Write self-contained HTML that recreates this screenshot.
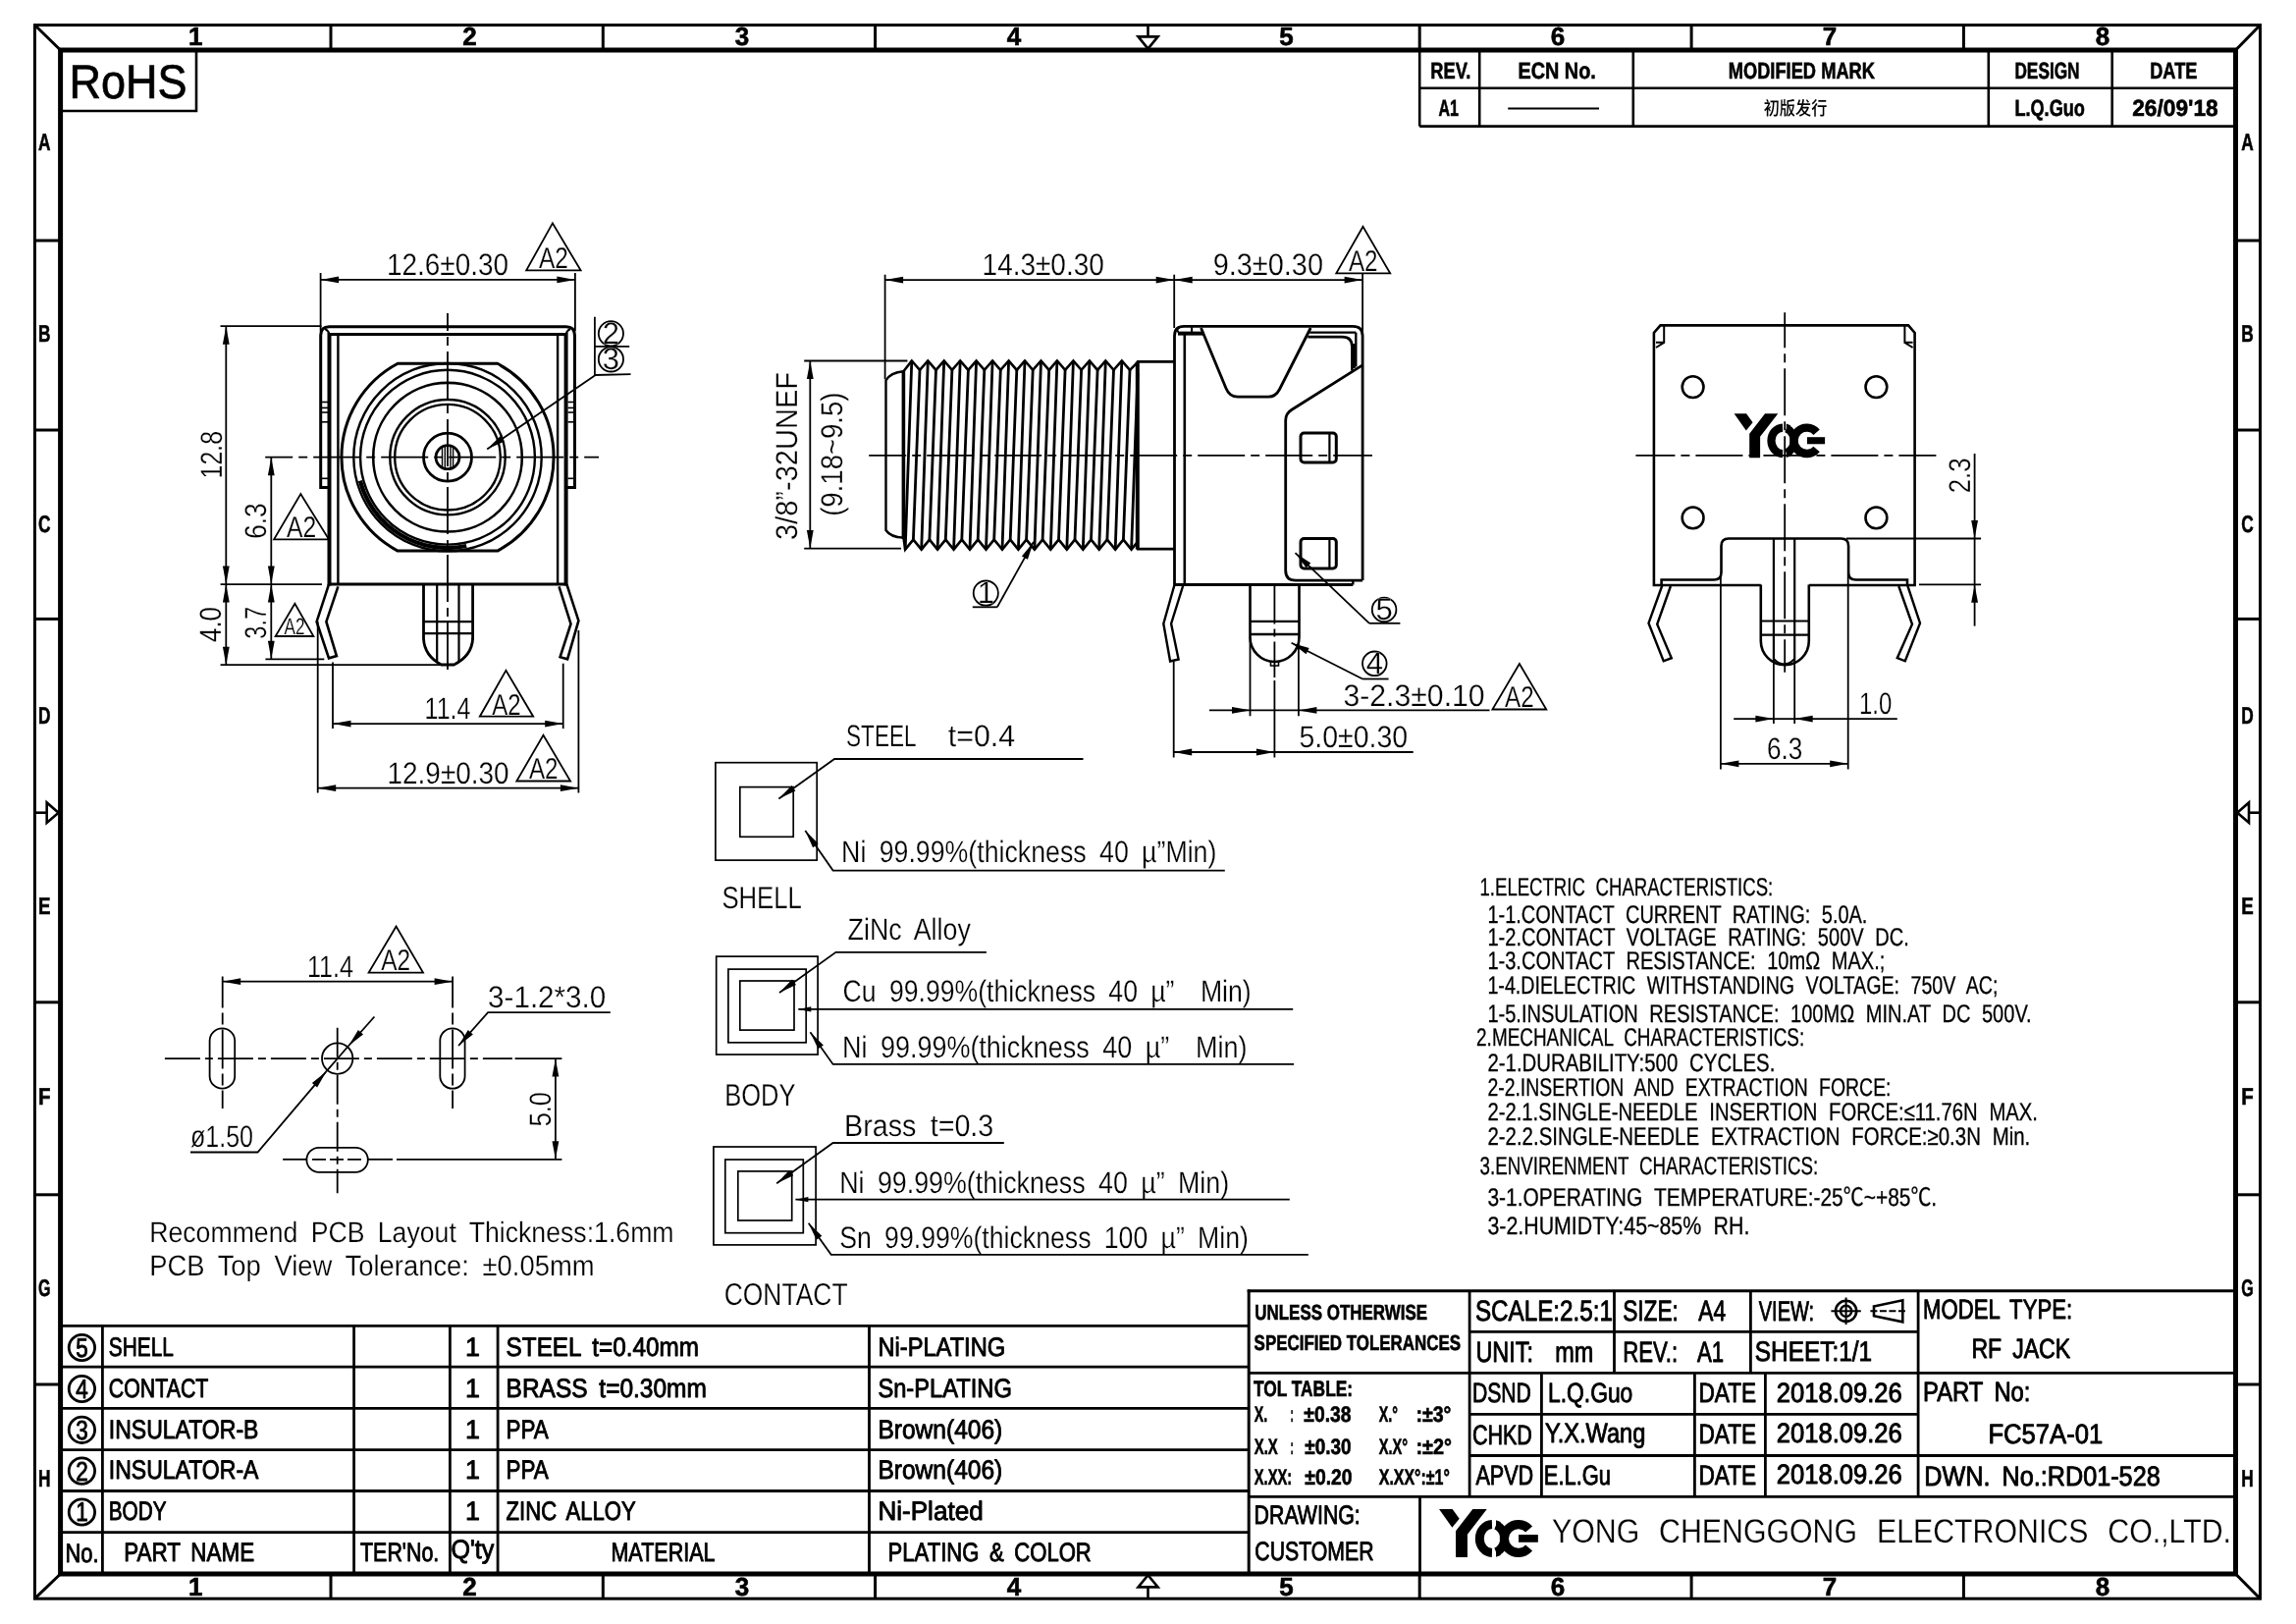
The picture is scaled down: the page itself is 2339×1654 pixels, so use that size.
<!DOCTYPE html>
<html lang="en"><head><meta charset="utf-8"><title>RF JACK FC57A-01 drawing</title>
<style>
html,body{margin:0;padding:0;background:#fff;}
body{width:2339px;height:1654px;overflow:hidden;}
svg{display:block;will-change:transform;}
svg *{vector-effect:none;}
line,path,circle,rect,ellipse,polygon{fill:none;stroke:#000;stroke-linecap:butt;stroke-linejoin:miter;}
.f{fill:#000;stroke:none;}
.w{fill:#fff;stroke:none;}
text{font-family:"Liberation Sans","Noto Sans CJK SC",sans-serif;fill:#000;stroke:none;text-rendering:geometricPrecision;}
text.t{stroke:#fff;stroke-width:.25px;word-spacing:.22em;}
text.n{stroke:#000;stroke-width:.3px;word-spacing:.3em;}
text.m{stroke:#000;stroke-width:.9px;stroke-linejoin:round;word-spacing:.2em;}
text.b{font-weight:bold;stroke:#000;stroke-width:.6px;}
text.a{stroke:#000;stroke-width:.7px;}
text.c{font-family:"Liberation Sans","Noto Sans CJK SC","WenQuanYi Zen Hei",sans-serif;font-weight:500;}
</style></head>
<body>
<svg width="2339" height="1654" viewBox="0 0 2339 1654">
<rect x="0" y="0" width="2339" height="1654" style="fill:#fff;stroke:none"/>
<g id="frame">
<rect x="35.4" y="25.5" width="2267.1" height="1602.7" rx="0" stroke-width="3"/>
<rect x="61.6" y="51.0" width="2215.9" height="1552.0" rx="0" stroke-width="5"/>
<line x1="35.4" y1="25.5" x2="61.6" y2="51.0" stroke-width="3"/>
<line x1="2302.5" y1="25.5" x2="2277.5" y2="51.0" stroke-width="3"/>
<line x1="35.4" y1="1628.2" x2="61.6" y2="1603.0" stroke-width="3"/>
<line x1="2302.5" y1="1628.2" x2="2277.5" y2="1603.0" stroke-width="3"/>
<line x1="337.0" y1="25.5" x2="337.0" y2="51.0" stroke-width="3"/>
<line x1="337.0" y1="1603.0" x2="337.0" y2="1628.2" stroke-width="3"/>
<line x1="614.3" y1="25.5" x2="614.3" y2="51.0" stroke-width="3"/>
<line x1="614.3" y1="1603.0" x2="614.3" y2="1628.2" stroke-width="3"/>
<line x1="891.6" y1="25.5" x2="891.6" y2="51.0" stroke-width="3"/>
<line x1="891.6" y1="1603.0" x2="891.6" y2="1628.2" stroke-width="3"/>
<line x1="1446.2" y1="25.5" x2="1446.2" y2="51.0" stroke-width="3"/>
<line x1="1446.2" y1="1603.0" x2="1446.2" y2="1628.2" stroke-width="3"/>
<line x1="1723.1" y1="25.5" x2="1723.1" y2="51.0" stroke-width="3"/>
<line x1="1723.1" y1="1603.0" x2="1723.1" y2="1628.2" stroke-width="3"/>
<line x1="2000.4" y1="25.5" x2="2000.4" y2="51.0" stroke-width="3"/>
<line x1="2000.4" y1="1603.0" x2="2000.4" y2="1628.2" stroke-width="3"/>
<line x1="35.4" y1="245.0" x2="61.6" y2="245.0" stroke-width="3"/>
<line x1="2277.5" y1="245.0" x2="2302.5" y2="245.0" stroke-width="3"/>
<line x1="35.4" y1="438.0" x2="61.6" y2="438.0" stroke-width="3"/>
<line x1="2277.5" y1="438.0" x2="2302.5" y2="438.0" stroke-width="3"/>
<line x1="35.4" y1="630.4" x2="61.6" y2="630.4" stroke-width="3"/>
<line x1="2277.5" y1="630.4" x2="2302.5" y2="630.4" stroke-width="3"/>
<line x1="35.4" y1="1020.8" x2="61.6" y2="1020.8" stroke-width="3"/>
<line x1="2277.5" y1="1020.8" x2="2302.5" y2="1020.8" stroke-width="3"/>
<line x1="35.4" y1="1216.8" x2="61.6" y2="1216.8" stroke-width="3"/>
<line x1="2277.5" y1="1216.8" x2="2302.5" y2="1216.8" stroke-width="3"/>
<line x1="35.4" y1="1410.0" x2="61.6" y2="1410.0" stroke-width="3"/>
<line x1="2277.5" y1="1410.0" x2="2302.5" y2="1410.0" stroke-width="3"/>
<line x1="1169.5" y1="25.5" x2="1169.5" y2="37.4" stroke-width="2.6"/>
<path d="M1159.5,37.4 L1179.6,37.4 L1169.5,49.6 Z" stroke-width="2.6"/>
<line x1="1169.5" y1="1628.2" x2="1169.5" y2="1616.4" stroke-width="2.6"/>
<path d="M1159.5,1616.4 L1179.6,1616.4 L1169.5,1604.2 Z" stroke-width="2.6"/>
<line x1="35.4" y1="827.7" x2="47.7" y2="827.7" stroke-width="2.6"/>
<path d="M47.7,817.4 L47.7,837.9 L59.6,827.7 Z" stroke-width="2.6"/>
<line x1="2302.5" y1="827.7" x2="2291.0" y2="827.7" stroke-width="2.6"/>
<path d="M2291.0,817.4 L2291.0,837.9 L2279.2,827.7 Z" stroke-width="2.6"/>
<text class="b" x="199.3" y="46.4" font-size="26.0" text-anchor="middle">1</text>
<text class="b" x="199.3" y="1625.0" font-size="26.0" text-anchor="middle">1</text>
<text class="b" x="478.5" y="46.4" font-size="26.0" text-anchor="middle">2</text>
<text class="b" x="478.5" y="1625.0" font-size="26.0" text-anchor="middle">2</text>
<text class="b" x="756.0" y="46.4" font-size="26.0" text-anchor="middle">3</text>
<text class="b" x="756.0" y="1625.0" font-size="26.0" text-anchor="middle">3</text>
<text class="b" x="1033.0" y="46.4" font-size="26.0" text-anchor="middle">4</text>
<text class="b" x="1033.0" y="1625.0" font-size="26.0" text-anchor="middle">4</text>
<text class="b" x="1310.5" y="46.4" font-size="26.0" text-anchor="middle">5</text>
<text class="b" x="1310.5" y="1625.0" font-size="26.0" text-anchor="middle">5</text>
<text class="b" x="1587.0" y="46.4" font-size="26.0" text-anchor="middle">6</text>
<text class="b" x="1587.0" y="1625.0" font-size="26.0" text-anchor="middle">6</text>
<text class="b" x="1864.0" y="46.4" font-size="26.0" text-anchor="middle">7</text>
<text class="b" x="1864.0" y="1625.0" font-size="26.0" text-anchor="middle">7</text>
<text class="b" x="2142.0" y="46.4" font-size="26.0" text-anchor="middle">8</text>
<text class="b" x="2142.0" y="1625.0" font-size="26.0" text-anchor="middle">8</text>
<text class="b" x="45.3" y="153.2" font-size="24.4" textLength="12.5" lengthAdjust="spacingAndGlyphs" text-anchor="middle">A</text>
<text class="b" x="2289.5" y="153.2" font-size="24.4" textLength="12.5" lengthAdjust="spacingAndGlyphs" text-anchor="middle">A</text>
<text class="b" x="45.3" y="348.3" font-size="24.4" textLength="12.5" lengthAdjust="spacingAndGlyphs" text-anchor="middle">B</text>
<text class="b" x="2289.5" y="348.3" font-size="24.4" textLength="12.5" lengthAdjust="spacingAndGlyphs" text-anchor="middle">B</text>
<text class="b" x="45.3" y="541.8" font-size="24.4" textLength="12.5" lengthAdjust="spacingAndGlyphs" text-anchor="middle">C</text>
<text class="b" x="2289.5" y="541.8" font-size="24.4" textLength="12.5" lengthAdjust="spacingAndGlyphs" text-anchor="middle">C</text>
<text class="b" x="45.3" y="736.8" font-size="24.4" textLength="12.5" lengthAdjust="spacingAndGlyphs" text-anchor="middle">D</text>
<text class="b" x="2289.5" y="736.8" font-size="24.4" textLength="12.5" lengthAdjust="spacingAndGlyphs" text-anchor="middle">D</text>
<text class="b" x="45.3" y="931.0" font-size="24.4" textLength="12.5" lengthAdjust="spacingAndGlyphs" text-anchor="middle">E</text>
<text class="b" x="2289.5" y="931.0" font-size="24.4" textLength="12.5" lengthAdjust="spacingAndGlyphs" text-anchor="middle">E</text>
<text class="b" x="45.3" y="1124.5" font-size="24.4" textLength="12.5" lengthAdjust="spacingAndGlyphs" text-anchor="middle">F</text>
<text class="b" x="2289.5" y="1124.5" font-size="24.4" textLength="12.5" lengthAdjust="spacingAndGlyphs" text-anchor="middle">F</text>
<text class="b" x="45.3" y="1320.0" font-size="24.4" textLength="12.5" lengthAdjust="spacingAndGlyphs" text-anchor="middle">G</text>
<text class="b" x="2289.5" y="1320.0" font-size="24.4" textLength="12.5" lengthAdjust="spacingAndGlyphs" text-anchor="middle">G</text>
<text class="b" x="45.3" y="1514.0" font-size="24.4" textLength="12.5" lengthAdjust="spacingAndGlyphs" text-anchor="middle">H</text>
<text class="b" x="2289.5" y="1514.0" font-size="24.4" textLength="12.5" lengthAdjust="spacingAndGlyphs" text-anchor="middle">H</text>
</g>
<path d="M200,51 L200,113 L61.6,113" stroke-width="2.6"/>
<text class="a" x="70.6" y="99.8" font-size="48.7" textLength="120.0" lengthAdjust="spacingAndGlyphs">RoHS</text>
<g id="rev">
<line x1="1446.2" y1="89.8" x2="2277.5" y2="89.8" stroke-width="2.6"/>
<line x1="1446.2" y1="128.6" x2="2277.5" y2="128.6" stroke-width="2.6"/>
<line x1="1446.2" y1="51.0" x2="1446.2" y2="128.6" stroke-width="2.6"/>
<line x1="1507.2" y1="51.0" x2="1507.2" y2="128.6" stroke-width="2.6"/>
<line x1="1663.8" y1="51.0" x2="1663.8" y2="128.6" stroke-width="2.6"/>
<line x1="2025.8" y1="51.0" x2="2025.8" y2="128.6" stroke-width="2.6"/>
<line x1="2151.7" y1="51.0" x2="2151.7" y2="128.6" stroke-width="2.6"/>
<text class="b" x="1457.3" y="79.5" font-size="23.4" textLength="41.0" lengthAdjust="spacingAndGlyphs">REV.</text>
<text class="b" x="1546.4" y="79.5" font-size="23.4" textLength="79.4" lengthAdjust="spacingAndGlyphs">ECN No.</text>
<text class="b" x="1760.7" y="79.5" font-size="23.4" textLength="149.3" lengthAdjust="spacingAndGlyphs">MODIFIED MARK</text>
<text class="b" x="2052.4" y="79.5" font-size="23.4" textLength="66.2" lengthAdjust="spacingAndGlyphs">DESIGN</text>
<text class="b" x="2190.2" y="79.5" font-size="23.4" textLength="48.2" lengthAdjust="spacingAndGlyphs">DATE</text>
<text class="b" x="1465.4" y="117.6" font-size="23.4" textLength="20.5" lengthAdjust="spacingAndGlyphs">A1</text>
<line x1="1536.2" y1="110.6" x2="1629.0" y2="110.6" stroke-width="2"/>
<text class="c" x="1796.7" y="117.2" font-size="19.0" textLength="64.6" lengthAdjust="spacingAndGlyphs">初版发行</text>
<text class="b" x="2052.4" y="117.6" font-size="23.4" textLength="71.5" lengthAdjust="spacingAndGlyphs">L.Q.Guo</text>
<text class="b" x="2172.2" y="117.6" font-size="23.4" textLength="87.5" lengthAdjust="spacingAndGlyphs">26/09'18</text>
</g>
<g id="view1">
<line x1="270.2" y1="465.7" x2="610.0" y2="465.7" stroke-width="1.8" stroke-dasharray="48 6 9 6" stroke-dashoffset="20"/>
<line x1="456.0" y1="318.9" x2="456.0" y2="685.5" stroke-width="1.8" stroke-dasharray="48 6 9 6" stroke-dashoffset="30"/>
<path d="M334.5,496.4 L326.7,496.4 L326.7,341.5 Q326.7,332.7 335.5,332.7 L576.7,332.7 Q585.5,332.7 585.5,341.5 L585.5,496.4 L577.5,496.4" stroke-width="3.0"/>
<path d="M331,335 Q334.5,336.5 335.5,340.5 M581,335 Q577.6,336.5 576.6,340.5" stroke-width="2"/>
<line x1="335.0" y1="340.5" x2="577.0" y2="340.5" stroke-width="3.0"/>
<line x1="335.5" y1="339.0" x2="335.5" y2="596.5" stroke-width="4"/>
<line x1="576.6" y1="339.0" x2="576.6" y2="596.5" stroke-width="4"/>
<line x1="344.4" y1="340.5" x2="344.4" y2="595.1" stroke-width="2.4"/>
<line x1="568.1" y1="340.5" x2="568.1" y2="595.1" stroke-width="2.4"/>
<line x1="334.0" y1="595.1" x2="578.0" y2="595.1" stroke-width="3.0"/>
<line x1="327.5" y1="409.5" x2="334.0" y2="409.5" stroke-width="1.6"/>
<line x1="578.5" y1="409.5" x2="585.0" y2="409.5" stroke-width="1.6"/>
<line x1="327.5" y1="415.4" x2="334.0" y2="415.4" stroke-width="1.6"/>
<line x1="578.5" y1="415.4" x2="585.0" y2="415.4" stroke-width="1.6"/>
<line x1="327.5" y1="420.0" x2="334.0" y2="420.0" stroke-width="1.6"/>
<line x1="578.5" y1="420.0" x2="585.0" y2="420.0" stroke-width="1.6"/>
<line x1="327.5" y1="429.8" x2="334.0" y2="429.8" stroke-width="1.6"/>
<line x1="578.5" y1="429.8" x2="585.0" y2="429.8" stroke-width="1.6"/>
<line x1="327.5" y1="487.3" x2="334.0" y2="487.3" stroke-width="1.6"/>
<line x1="578.5" y1="487.3" x2="585.0" y2="487.3" stroke-width="1.6"/>
<path d="M405.2,370.3 L506.8,370.3 A108.1,108.1 0 0 1 506.8,561.1 L405.2,561.1 A108.1,108.1 0 0 1 405.2,370.3 Z" stroke-width="3.0"/>
<circle cx="456.0" cy="465.7" r="95.7" stroke-width="2.4"/>
<circle cx="456.0" cy="465.7" r="88.9" stroke-width="2.4"/>
<circle cx="456.0" cy="465.7" r="75.8" stroke-width="2.6"/>
<circle cx="456.0" cy="465.7" r="58.7" stroke-width="2.4"/>
<circle cx="456.0" cy="465.7" r="53.8" stroke-width="2.4"/>
<circle cx="456.0" cy="465.7" r="24.5" stroke-width="2.8"/>
<circle cx="456.0" cy="465.7" r="12.0" stroke-width="2.8"/>
<path d="M475.2,556.0 A92.3,92.3 0 0 1 366.8,489.6" stroke-width="4.2"/>
<line x1="450.5" y1="455.0" x2="450.5" y2="476.4" stroke-width="1.4"/>
<line x1="453.3" y1="454.0" x2="453.3" y2="477.4" stroke-width="1.4"/>
<line x1="459.0" y1="454.1" x2="459.0" y2="477.3" stroke-width="1.4"/>
<line x1="461.6" y1="455.1" x2="461.6" y2="476.3" stroke-width="1.4"/>
<path d="M335.0,595.1 L322.6,633.2 L335.0,670.3 L342.9,668.1 L332.4,633.2 L344.4,597.3" stroke-width="2.6" stroke-linejoin="round"/>
<path d="M577.4,595.1 L589.4,632.2 L578.1,671.3 L570.6,669.2 L581.5,635.4 L569.5,597.3" stroke-width="2.6" stroke-linejoin="round"/>
<path d="M431.5,595.1 L431.5,650.7 Q432.5,668 449.5,677 L462.5,677 Q480.6,668 481.6,650.7 L481.6,595.1" stroke-width="2.8"/>
<line x1="445.2" y1="595.1" x2="445.2" y2="673.0" stroke-width="2.2"/>
<line x1="467.5" y1="595.1" x2="467.5" y2="673.0" stroke-width="2.2"/>
<line x1="431.5" y1="633.2" x2="481.6" y2="633.2" stroke-width="2.2"/>
<line x1="431.5" y1="645.2" x2="481.6" y2="645.2" stroke-width="2.2"/>
<line x1="326.6" y1="278.0" x2="326.6" y2="337.0" stroke-width="1.8"/>
<line x1="585.9" y1="278.0" x2="585.9" y2="337.0" stroke-width="1.8"/>
<line x1="326.6" y1="284.9" x2="585.9" y2="284.9" stroke-width="1.8"/>
<polygon class="f" points="326.6,284.9 345.1,281.5 345.1,288.3"/>
<polygon class="f" points="585.9,284.9 567.4,288.3 567.4,281.5"/>
<text class="t" x="394.0" y="279.7" font-size="31.0" textLength="124.0" lengthAdjust="spacingAndGlyphs">12.6±0.30</text>
<path d="M562.9,227.4 L536.2,275.3 L591.6,275.3 Z" stroke-width="1.8"/>
<text class="t" x="548.9" y="273.1" font-size="30.0" textLength="29.9" lengthAdjust="spacingAndGlyphs">A2</text>
<line x1="224.5" y1="332.2" x2="327.5" y2="332.2" stroke-width="1.8"/>
<line x1="224.6" y1="595.1" x2="328.0" y2="595.1" stroke-width="1.8"/>
<line x1="224.6" y1="677.2" x2="454.4" y2="677.2" stroke-width="1.8"/>
<line x1="230.3" y1="332.2" x2="230.3" y2="677.2" stroke-width="1.8"/>
<polygon class="f" points="230.3,332.2 233.7,350.7 226.9,350.7"/>
<polygon class="f" points="230.3,595.1 226.9,576.6 233.7,576.6"/>
<polygon class="f" points="230.3,595.1 233.7,613.6 226.9,613.6"/>
<polygon class="f" points="230.3,677.2 226.9,658.7 233.7,658.7"/>
<text class="t" x="226.5" y="487.4" font-size="31.0" textLength="48.4" lengthAdjust="spacingAndGlyphs" transform="rotate(-90 226.5 487.4)">12.8</text>
<text class="t" x="225.3" y="654.0" font-size="31.0" textLength="36.0" lengthAdjust="spacingAndGlyphs" transform="rotate(-90 225.3 654.0)">4.0</text>
<line x1="276.3" y1="465.7" x2="276.3" y2="671.3" stroke-width="1.8"/>
<line x1="270.4" y1="671.3" x2="330.3" y2="671.3" stroke-width="1.8"/>
<polygon class="f" points="276.3,465.7 279.7,484.2 272.9,484.2"/>
<polygon class="f" points="276.3,595.1 272.9,576.6 279.7,576.6"/>
<polygon class="f" points="276.3,595.1 279.7,613.6 272.9,613.6"/>
<polygon class="f" points="276.3,671.3 272.9,652.8 279.7,652.8"/>
<text class="t" x="271.3" y="548.8" font-size="31.0" textLength="36.5" lengthAdjust="spacingAndGlyphs" transform="rotate(-90 271.3 548.8)">6.3</text>
<text class="t" x="271.3" y="650.7" font-size="31.0" textLength="32.7" lengthAdjust="spacingAndGlyphs" transform="rotate(-90 271.3 650.7)">3.7</text>
<path d="M306.3,503.1 L279.1,549.4 L335.0,549.4 Z" stroke-width="1.8"/>
<text class="t" x="292.0" y="547.2" font-size="30.0" textLength="30.2" lengthAdjust="spacingAndGlyphs">A2</text>
<path d="M300.4,614.7 L280.6,648.0 L319.4,648.0 Z" stroke-width="1.8"/>
<text class="t" x="289.5" y="645.8" font-size="23.5" textLength="21.0" lengthAdjust="spacingAndGlyphs">A2</text>
<line x1="339.0" y1="674.6" x2="339.0" y2="742.1" stroke-width="1.8"/>
<line x1="573.7" y1="675.7" x2="573.7" y2="742.1" stroke-width="1.8"/>
<line x1="339.0" y1="737.1" x2="573.7" y2="737.1" stroke-width="1.8"/>
<polygon class="f" points="339.0,737.1 357.5,733.7 357.5,740.5"/>
<polygon class="f" points="573.7,737.1 555.2,740.5 555.2,733.7"/>
<text class="t" x="432.6" y="732.3" font-size="31.0" textLength="46.8" lengthAdjust="spacingAndGlyphs">11.4</text>
<path d="M515.4,682.9 L488.8,729.7 L543.2,729.7 Z" stroke-width="1.8"/>
<text class="t" x="501.3" y="727.5" font-size="30.0" textLength="29.4" lengthAdjust="spacingAndGlyphs">A2</text>
<line x1="323.7" y1="633.0" x2="323.7" y2="807.5" stroke-width="1.8"/>
<line x1="589.4" y1="642.0" x2="589.4" y2="807.5" stroke-width="1.8"/>
<line x1="323.7" y1="802.7" x2="589.4" y2="802.7" stroke-width="1.8"/>
<polygon class="f" points="323.7,802.7 342.2,799.3 342.2,806.1"/>
<polygon class="f" points="589.4,802.7 570.9,806.1 570.9,799.3"/>
<text class="t" x="394.5" y="797.7" font-size="31.0" textLength="124.1" lengthAdjust="spacingAndGlyphs">12.9±0.30</text>
<path d="M553.5,748.7 L526.3,795.5 L581.1,795.5 Z" stroke-width="1.8"/>
<text class="t" x="538.9" y="793.3" font-size="30.0" textLength="29.6" lengthAdjust="spacingAndGlyphs">A2</text>
<circle cx="622.4" cy="339.8" r="12.6" stroke-width="1.8"/>
<circle cx="622.4" cy="365.9" r="12.6" stroke-width="1.8"/>
<text class="t" x="622.4" y="349.5" font-size="31.0" text-anchor="middle">2</text>
<text class="t" x="622.4" y="375.6" font-size="31.0" text-anchor="middle">3</text>
<line x1="605.9" y1="322.8" x2="605.9" y2="382.9" stroke-width="1.8"/>
<line x1="605.9" y1="352.9" x2="641.2" y2="352.9" stroke-width="1.8"/>
<line x1="605.9" y1="382.0" x2="642.5" y2="381.2" stroke-width="1.8"/>
<line x1="605.9" y1="382.5" x2="496.2" y2="457.4" stroke-width="1.8"/>
<polygon class="f" points="496.2,457.4 509.6,444.2 513.4,449.8"/>
</g>
<g id="view2">
<line x1="885.2" y1="463.8" x2="1398.0" y2="463.8" stroke-width="1.8" stroke-dasharray="48 6 9 6" stroke-dashoffset="10"/>
<path d="M920.4,378.3 L928.8,367.5 L937.0,376.9 L945.3,367.5 L953.5,376.9 L961.7,367.5 L969.9,376.9 L978.2,367.5 L986.4,376.9 L994.6,367.5 L1002.8,376.9 L1011.1,367.5 L1019.3,376.9 L1027.6,367.5 L1035.8,376.9 L1044.0,367.5 L1052.2,376.9 L1060.5,367.5 L1068.7,376.9 L1076.9,367.5 L1085.1,376.9 L1093.4,367.5 L1101.6,376.9 L1109.9,367.5 L1118.1,376.9 L1126.3,367.5 L1134.5,376.9 L1142.8,367.5 L1151.0,376.9 L1159.5,368.4" stroke-width="2.6" stroke-linejoin="miter"/>
<path d="M920.4,547.0 L922.2,559.6 L930.4,549.6 L938.7,559.6 L946.9,549.6 L955.1,559.6 L963.3,549.6 L971.6,559.6 L979.8,549.6 L988.0,559.6 L996.2,549.6 L1004.5,559.6 L1012.7,549.6 L1021.0,559.6 L1029.2,549.6 L1037.4,559.6 L1045.6,549.6 L1053.9,559.6 L1062.1,549.6 L1070.3,559.6 L1078.5,549.6 L1086.8,559.6 L1095.0,549.6 L1103.3,559.6 L1111.5,549.6 L1119.7,559.6 L1127.9,549.6 L1136.2,559.6 L1144.4,549.6 L1152.6,559.6 L1159.5,551.0" stroke-width="2.6" stroke-linejoin="miter"/>
<path d="M928.8,367.5 L922.2,559.6 M937.0,376.9 L930.4,549.6 M945.3,367.5 L938.7,559.6 M953.5,376.9 L946.9,549.6 M961.7,367.5 L955.1,559.6 M969.9,376.9 L963.3,549.6 M978.2,367.5 L971.6,559.6 M986.4,376.9 L979.8,549.6 M994.6,367.5 L988.0,559.6 M1002.8,376.9 L996.2,549.6 M1011.1,367.5 L1004.5,559.6 M1019.3,376.9 L1012.7,549.6 M1027.6,367.5 L1021.0,559.6 M1035.8,376.9 L1029.2,549.6 M1044.0,367.5 L1037.4,559.6 M1052.2,376.9 L1045.6,549.6 M1060.5,367.5 L1053.9,559.6 M1068.7,376.9 L1062.1,549.6 M1076.9,367.5 L1070.3,559.6 M1085.1,376.9 L1078.5,549.6 M1093.4,367.5 L1086.8,559.6 M1101.6,376.9 L1095.0,549.6 M1109.9,367.5 L1103.3,559.6 M1118.1,376.9 L1111.5,549.6 M1126.3,367.5 L1119.7,559.6 M1134.5,376.9 L1127.9,549.6 M1142.8,367.5 L1136.2,559.6 M1151.0,376.9 L1144.4,549.6 M1152.6,559.6 L1159,380 " stroke-width="2.8"/>
<path d="M920.4,378.3 Q907,379.5 902.5,387.5 L902.5,540 Q907,547 920.4,547.6" stroke-width="2.4"/>
<line x1="920.4" y1="377.5" x2="920.4" y2="549.0" stroke-width="3.6"/>
<line x1="1158.8" y1="368.4" x2="1158.8" y2="559.4" stroke-width="4"/>
<line x1="1158.0" y1="368.4" x2="1196.5" y2="368.4" stroke-width="2.8"/>
<line x1="1158.0" y1="559.1" x2="1196.5" y2="559.1" stroke-width="2.8"/>
<path d="M1196.5,595.5 L1196.5,342 Q1196.5,332.3 1206,332.3 L1378.3,332.3 Q1388.1,332.3 1388.1,342 L1388.1,591.1" stroke-width="2.8"/>
<line x1="1206.8" y1="341.0" x2="1206.8" y2="595.5" stroke-width="2.6"/>
<path d="M1200,339.6 L1226.4,339.6" stroke-width="4"/>
<line x1="1214.1" y1="332.3" x2="1214.1" y2="339.6" stroke-width="2"/>
<path d="M1201.5,333.5 Q1197.5,336 1201.5,339.6" stroke-width="1.8"/>
<path d="M1223.5,334 L1249,395.5 Q1252.5,404.2 1261,404.2 L1292,404.2 Q1299.5,404.2 1303.5,396.5 L1335.2,334" stroke-width="2.8"/>
<line x1="1334.2" y1="338.6" x2="1381.3" y2="338.6" stroke-width="2.4"/>
<path d="M1332.3,343.1 L1367.5,343.1 Q1377.4,343.1 1377.4,353 L1377.4,377.5" stroke-width="2.6"/>
<line x1="1381.3" y1="338.6" x2="1381.3" y2="373.5" stroke-width="2.4"/>
<line x1="1379.3" y1="350.0" x2="1379.3" y2="375.0" stroke-width="3"/>
<path d="M1388.1,371.9 L1316,417.2 Q1309.7,421 1309.7,428 L1309.7,581 Q1309.7,591.1 1320,591.1 L1388.1,591.1" stroke-width="2.8"/>
<path d="M1378.3,591.1 L1378.3,595.5" stroke-width="2.4"/>
<line x1="1195.5" y1="595.5" x2="1378.3" y2="595.5" stroke-width="2.8"/>
<rect x="1325.0" y="441.1" width="36.3" height="29.8" rx="3.5" stroke-width="3"/>
<line x1="1354.4" y1="441.1" x2="1354.4" y2="470.9" stroke-width="2.2"/>
<rect x="1325.0" y="548.6" width="36.3" height="30.4" rx="3.5" stroke-width="3"/>
<line x1="1354.4" y1="548.6" x2="1354.4" y2="579.0" stroke-width="2.2"/>
<path d="M1196.5,595.5 L1185.3,635.2 L1192.1,673.5 L1200.6,671.5 L1193.1,635.2 L1205.5,595.5" stroke-width="2.4" stroke-linejoin="round"/>
<path d="M1273.5,595.5 L1273.5,649 A25,25 0 0 0 1323.5,649 L1323.5,595.5" stroke-width="2.6"/>
<line x1="1273.5" y1="632.9" x2="1323.5" y2="632.9" stroke-width="2.4"/>
<line x1="1273.5" y1="646.0" x2="1323.5" y2="646.0" stroke-width="2.4"/>
<path d="M1294.5,674.5 L1294.5,678 L1302.5,678 L1302.5,674.5" stroke-width="1.6"/>
<line x1="1298.4" y1="595.5" x2="1298.4" y2="690.0" stroke-width="1.8" stroke-dasharray="40 5 8 5"/>
<line x1="1298.4" y1="693.0" x2="1298.4" y2="771.5" stroke-width="1.8"/>
<line x1="901.6" y1="279.7" x2="901.6" y2="386.4" stroke-width="1.8"/>
<line x1="1196.2" y1="279.7" x2="1196.2" y2="334.0" stroke-width="1.8"/>
<line x1="1388.1" y1="278.8" x2="1388.1" y2="337.6" stroke-width="1.8"/>
<line x1="901.6" y1="285.1" x2="1388.1" y2="285.1" stroke-width="1.8"/>
<polygon class="f" points="901.6,285.1 920.1,281.7 920.1,288.5"/>
<polygon class="f" points="1196.2,285.1 1177.7,288.5 1177.7,281.7"/>
<polygon class="f" points="1196.2,285.1 1214.7,281.7 1214.7,288.5"/>
<polygon class="f" points="1388.1,285.1 1369.6,288.5 1369.6,281.7"/>
<text class="t" x="1000.6" y="280.1" font-size="31.0" textLength="124.2" lengthAdjust="spacingAndGlyphs">14.3±0.30</text>
<text class="t" x="1235.7" y="279.8" font-size="31.0" textLength="112.3" lengthAdjust="spacingAndGlyphs">9.3±0.30</text>
<path d="M1388.5,230.8 L1361.3,278.4 L1416.2,278.4 Z" stroke-width="1.8"/>
<text class="t" x="1373.9" y="276.2" font-size="30.0" textLength="29.6" lengthAdjust="spacingAndGlyphs">A2</text>
<line x1="819.2" y1="367.5" x2="924.4" y2="367.5" stroke-width="1.8"/>
<line x1="819.2" y1="558.6" x2="918.0" y2="558.6" stroke-width="1.8"/>
<line x1="825.3" y1="367.5" x2="825.3" y2="558.6" stroke-width="1.8"/>
<polygon class="f" points="825.3,367.5 828.7,386.0 821.9,386.0"/>
<polygon class="f" points="825.3,558.6 821.9,540.1 828.7,540.1"/>
<text class="t" x="812.3" y="550.0" font-size="31.0" textLength="171.0" lengthAdjust="spacingAndGlyphs" transform="rotate(-90 812.3 550.0)">3/8”-32UNEF</text>
<text class="t" x="858.0" y="525.8" font-size="31.0" textLength="126.3" lengthAdjust="spacingAndGlyphs" transform="rotate(-90 858.0 525.8)">(9.18~9.5)</text>
<circle cx="1004.3" cy="604.1" r="12.6" stroke-width="1.8"/>
<text class="t" x="1004.3" y="613.8" font-size="31.0" text-anchor="middle">1</text>
<line x1="990.8" y1="618.3" x2="1015.9" y2="618.3" stroke-width="1.8"/>
<line x1="1015.9" y1="618.3" x2="1052.9" y2="551.9" stroke-width="1.8"/>
<polygon class="f" points="1052.9,551.9 1046.9,569.7 1040.9,566.4"/>
<circle cx="1410.1" cy="620.9" r="12.3" stroke-width="1.8"/>
<text class="t" x="1410.1" y="630.6" font-size="31.0" text-anchor="middle">5</text>
<line x1="1395.0" y1="634.8" x2="1426.4" y2="634.8" stroke-width="1.8"/>
<line x1="1395.0" y1="634.8" x2="1319.5" y2="563.1" stroke-width="1.8"/>
<polygon class="f" points="1319.5,563.1 1335.3,573.4 1330.6,578.3"/>
<circle cx="1400.3" cy="675.8" r="12.3" stroke-width="1.8"/>
<text class="t" x="1400.3" y="685.5" font-size="31.0" text-anchor="middle">4</text>
<line x1="1388.1" y1="691.5" x2="1414.6" y2="691.5" stroke-width="1.8"/>
<line x1="1388.1" y1="691.5" x2="1315.6" y2="654.8" stroke-width="1.8"/>
<polygon class="f" points="1315.6,654.8 1333.6,660.1 1330.6,666.2"/>
<line x1="1273.5" y1="649.0" x2="1273.5" y2="729.3" stroke-width="1.8"/>
<line x1="1322.9" y1="649.0" x2="1322.9" y2="729.3" stroke-width="1.8"/>
<line x1="1231.9" y1="723.4" x2="1517.5" y2="723.4" stroke-width="1.8"/>
<polygon class="f" points="1273.5,723.4 1255.0,726.8 1255.0,720.0"/>
<polygon class="f" points="1322.9,723.4 1341.4,720.0 1341.4,726.8"/>
<text class="t" x="1368.5" y="718.5" font-size="31.0" textLength="144.1" lengthAdjust="spacingAndGlyphs">3-2.3±0.10</text>
<path d="M1547.9,676.0 L1520.4,722.5 L1575.3,722.5 Z" stroke-width="1.8"/>
<text class="t" x="1533.0" y="720.3" font-size="30.0" textLength="29.6" lengthAdjust="spacingAndGlyphs">A2</text>
<line x1="1195.7" y1="673.5" x2="1195.7" y2="771.5" stroke-width="1.8"/>
<line x1="1195.7" y1="766.0" x2="1439.7" y2="766.0" stroke-width="1.8"/>
<polygon class="f" points="1195.7,766.0 1214.2,762.6 1214.2,769.4"/>
<polygon class="f" points="1298.4,766.0 1279.9,769.4 1279.9,762.6"/>
<text class="t" x="1323.5" y="761.1" font-size="31.0" textLength="110.7" lengthAdjust="spacingAndGlyphs">5.0±0.30</text>
</g>
<g id="view3">
<line x1="1666.4" y1="463.8" x2="1972.4" y2="463.8" stroke-width="1.8" stroke-dasharray="48 6 9 6" stroke-dashoffset="8"/>
<line x1="1818.2" y1="318.3" x2="1818.2" y2="684.8" stroke-width="1.8" stroke-dasharray="48 6 9 6" stroke-dashoffset="12"/>
<path d="M1793.8,596 L1684.9,596 L1684.9,339 L1691.5,331.4 L1944.1,331.4 L1950.6,339 L1950.6,596 L1842.8,596" stroke-width="2.6"/>
<path d="M1695.2,331.4 L1695.2,348.8 L1687,348.8 M1687,354 L1695.2,348.8 M1940.4,331.4 L1940.4,348.8 L1948.6,348.8 M1948.6,354 L1940.4,348.8" stroke-width="2"/>
<path d="M1692.6,596 L1692.6,590.5 L1746,590.5 Q1753.5,590.5 1753.5,583 L1753.5,556 Q1753.5,548.5 1761,548.5 L1875.6,548.5 Q1883.1,548.5 1883.1,556 L1883.1,583 Q1883.1,590.5 1890.6,590.5 L1943,590.5 L1943,596" stroke-width="2.6"/>
<circle cx="1724.6" cy="394.1" r="10.9" stroke-width="2.6"/>
<circle cx="1724.6" cy="527.4" r="10.9" stroke-width="2.6"/>
<circle cx="1911.4" cy="394.1" r="10.9" stroke-width="2.6"/>
<circle cx="1911.4" cy="527.4" r="10.9" stroke-width="2.6"/>
<path d="M1793.8,595.5 L1793.8,652.8 A24.4,24.4 0 0 0 1842.8,652.8 L1842.8,595.5" stroke-width="2.6"/>
<line x1="1806.9" y1="548.5" x2="1806.9" y2="672.0" stroke-width="2.2"/>
<line x1="1828.2" y1="548.5" x2="1828.2" y2="672.0" stroke-width="2.2"/>
<line x1="1793.8" y1="632.5" x2="1842.8" y2="632.5" stroke-width="2.2"/>
<line x1="1793.8" y1="646.7" x2="1842.8" y2="646.7" stroke-width="2.2"/>
<path d="M1806.9,671 Q1817.5,682 1828.2,671" stroke-width="2"/>
<path d="M1693.6,595.5 L1679.5,634.7 L1694.7,673.3 L1702.8,670.2 L1688.2,635.8 L1701.9,597.0" stroke-width="2.4" stroke-linejoin="round"/>
<path d="M1943.0,595.5 L1956.0,634.7 L1940.8,673.3 L1932.8,670.2 L1948.0,635.8 L1934.3,597.0" stroke-width="2.4" stroke-linejoin="round"/>
<line x1="1752.9" y1="583.5" x2="1752.9" y2="783.5" stroke-width="1.8"/>
<line x1="1882.7" y1="583.5" x2="1882.7" y2="783.5" stroke-width="1.8"/>
<line x1="1806.9" y1="672.0" x2="1806.9" y2="737.0" stroke-width="1.8"/>
<line x1="1828.2" y1="672.0" x2="1828.2" y2="737.0" stroke-width="1.8"/>
<line x1="1766.2" y1="732.1" x2="1932.8" y2="732.1" stroke-width="1.8"/>
<polygon class="f" points="1806.9,732.1 1788.4,735.5 1788.4,728.7"/>
<polygon class="f" points="1828.2,732.1 1846.7,728.7 1846.7,735.5"/>
<text class="t" x="1894.0" y="726.8" font-size="31.0" textLength="33.3" lengthAdjust="spacingAndGlyphs">1.0</text>
<line x1="1752.9" y1="777.8" x2="1882.7" y2="777.8" stroke-width="1.8"/>
<polygon class="f" points="1752.9,777.8 1771.4,774.4 1771.4,781.2"/>
<polygon class="f" points="1882.7,777.8 1864.2,781.2 1864.2,774.4"/>
<text class="t" x="1799.9" y="773.0" font-size="31.0" textLength="36.4" lengthAdjust="spacingAndGlyphs">6.3</text>
<line x1="1880.9" y1="548.5" x2="2018.1" y2="548.5" stroke-width="1.8"/>
<line x1="1955.0" y1="595.3" x2="2018.1" y2="595.3" stroke-width="1.8"/>
<line x1="2011.6" y1="462.0" x2="2011.6" y2="637.6" stroke-width="1.8"/>
<polygon class="f" points="2011.6,548.5 2008.2,530.0 2015.0,530.0"/>
<polygon class="f" points="2011.6,595.3 2015.0,613.8 2008.2,613.8"/>
<text class="t" x="2007.2" y="502.3" font-size="31.0" textLength="35.9" lengthAdjust="spacingAndGlyphs" transform="rotate(-90 2007.2 502.3)">2.3</text>
</g>
<g class="logo" transform="translate(1455.00,1525.00) scale(0.05663)">
<polygon class="f" points="195,212 435,212 560,385 430,545"/>
<polygon class="f" points="800,212 1055,212 705,665 705,1075 495,1075 495,605"/>
<path d="M1147,486.1 A230,256 0 0 0 1147,997.9" stroke-width="158"/>
<path d="M1219,501.6 A230,256 0 0 1 1219,982.4" stroke-width="158"/>
<polygon class="f" points="1219,410 1300,440 1300,560 1219,590"/>
<polygon class="f" points="1219,1074 1300,1044 1300,924 1219,894"/>
<path d="M1812,575 A254,254 0 1 0 1812,909" stroke-width="162"/>
<rect class="f" x="1625" y="672" width="350" height="136"/>
</g>
<g class="logo" transform="translate(1756.47,410.28) scale(0.05197)">
<polygon class="f" points="195,212 435,212 560,385 430,545"/>
<polygon class="f" points="800,212 1055,212 705,665 705,1075 495,1075 495,605"/>
<path d="M1147,486.1 A230,256 0 0 0 1147,997.9" stroke-width="158"/>
<path d="M1219,501.6 A230,256 0 0 1 1219,982.4" stroke-width="158"/>
<polygon class="f" points="1219,410 1300,440 1300,560 1219,590"/>
<polygon class="f" points="1219,1074 1300,1044 1300,924 1219,894"/>
<path d="M1812,575 A254,254 0 1 0 1812,909" stroke-width="162"/>
<rect class="f" x="1625" y="672" width="350" height="136"/>
</g>
<g id="plating">
<rect x="728.9" y="776.7" width="103.3" height="99.4" rx="0" stroke-width="1.7"/>
<rect x="753.8" y="801.6" width="54.4" height="50.7" rx="0" stroke-width="1.7"/>
<text class="t" x="862.0" y="759.7" font-size="31.0" textLength="71.6" lengthAdjust="spacingAndGlyphs">STEEL</text>
<text class="t" x="965.8" y="759.7" font-size="31.0" textLength="68.3" lengthAdjust="spacingAndGlyphs">t=0.4</text>
<path d="M1103.5,773.0 L850.1,773.0 L793.4,813.5" stroke-width="1.8"/>
<polygon class="f" points="793.4,813.5 806.5,800.0 810.4,805.5"/>
<text class="t" x="857.1" y="877.8" font-size="31.0" textLength="382.3" lengthAdjust="spacingAndGlyphs" xml:space="preserve">Ni 99.99%(thickness 40 µ”Min)</text>
<path d="M1247.8,886.6 L848.6,886.6 L820.3,846.1" stroke-width="1.8"/>
<polygon class="f" points="820.3,846.1 833.7,859.3 828.1,863.2"/>
<text class="t" x="735.4" y="924.8" font-size="31.6" textLength="81.5" lengthAdjust="spacingAndGlyphs">SHELL</text>
<text class="t" x="863.6" y="957.4" font-size="31.0" textLength="125.2" lengthAdjust="spacingAndGlyphs">ZiNc Alloy</text>
<path d="M1004.9,969.8 L851.5,969.8 L794.0,1011.1" stroke-width="1.8"/>
<polygon class="f" points="794.0,1011.1 807.0,997.5 811.0,1003.1"/>
<rect x="729.7" y="974.1" width="103.4" height="99.9" rx="0" stroke-width="1.7"/>
<rect x="741.9" y="987.1" width="79.3" height="74.7" rx="0" stroke-width="1.7"/>
<rect x="753.8" y="999.0" width="55.2" height="50.1" rx="0" stroke-width="1.7"/>
<text class="t" x="858.6" y="1020.2" font-size="31.0" textLength="416.1" lengthAdjust="spacingAndGlyphs" xml:space="preserve">Cu 99.99%(thickness 40 µ”  Min)</text>
<line x1="813.3" y1="1027.9" x2="1317.2" y2="1027.9" stroke-width="1.8"/>
<polygon class="f" points="813.3,1027.9 826.3,1025.3 826.3,1030.5"/>
<text class="t" x="858.0" y="1076.8" font-size="31.0" textLength="412.5" lengthAdjust="spacingAndGlyphs" xml:space="preserve">Ni 99.99%(thickness 40 µ”  Min)</text>
<path d="M1318.1,1083.9 L848.6,1083.9 L825.4,1051.3" stroke-width="1.8"/>
<polygon class="f" points="825.4,1051.3 838.9,1064.4 833.4,1068.3"/>
<text class="t" x="738.2" y="1126.4" font-size="31.6" textLength="72.2" lengthAdjust="spacingAndGlyphs">BODY</text>
<text class="t" x="860.0" y="1156.6" font-size="31.0" textLength="152.3" lengthAdjust="spacingAndGlyphs">Brass t=0.3</text>
<path d="M1022.8,1164.0 L848.6,1164.0 L791.2,1205.3" stroke-width="1.8"/>
<polygon class="f" points="791.2,1205.3 804.2,1191.7 808.2,1197.3"/>
<rect x="726.9" y="1168.0" width="104.2" height="99.9" rx="0" stroke-width="1.7"/>
<rect x="738.8" y="1181.0" width="79.5" height="74.7" rx="0" stroke-width="1.7"/>
<rect x="751.8" y="1192.9" width="54.9" height="50.1" rx="0" stroke-width="1.7"/>
<text class="t" x="855.2" y="1214.7" font-size="31.0" textLength="396.9" lengthAdjust="spacingAndGlyphs" xml:space="preserve">Ni 99.99%(thickness 40 µ” Min)</text>
<line x1="810.4" y1="1221.7" x2="1313.8" y2="1221.7" stroke-width="1.8"/>
<polygon class="f" points="810.4,1221.7 823.4,1219.1 823.4,1224.3"/>
<text class="t" x="855.2" y="1270.7" font-size="31.0" textLength="416.7" lengthAdjust="spacingAndGlyphs" xml:space="preserve">Sn 99.99%(thickness 100 µ” Min)</text>
<path d="M1332.8,1277.8 L846.7,1277.8 L823.7,1245.8" stroke-width="1.8"/>
<polygon class="f" points="823.7,1245.8 837.3,1258.8 831.7,1262.8"/>
<text class="t" x="737.7" y="1329.3" font-size="31.6" textLength="125.9" lengthAdjust="spacingAndGlyphs">CONTACT</text>
</g>
<g id="pcb">
<line x1="226.7" y1="994.5" x2="226.7" y2="1129.0" stroke-width="1.8" stroke-dasharray="32 5 12 5 40 5 12 5 60"/>
<line x1="461.1" y1="994.5" x2="461.1" y2="1129.0" stroke-width="1.8" stroke-dasharray="32 5 12 5 40 5 12 5 60"/>
<line x1="226.7" y1="999.7" x2="461.1" y2="999.7" stroke-width="1.8"/>
<polygon class="f" points="226.7,999.7 245.2,996.3 245.2,1003.1"/>
<polygon class="f" points="461.1,999.7 442.6,1003.1 442.6,996.3"/>
<text class="t" x="312.9" y="994.5" font-size="31.0" textLength="47.1" lengthAdjust="spacingAndGlyphs">11.4</text>
<path d="M403.6,943.5 L375.6,990.6 L431.0,990.6 Z" stroke-width="1.8"/>
<text class="t" x="388.3" y="988.4" font-size="30.0" textLength="29.9" lengthAdjust="spacingAndGlyphs">A2</text>
<rect x="213.6" y="1047.3" width="25.6" height="61.4" rx="12.8" stroke-width="1.8"/>
<rect x="448.3" y="1047.3" width="25.3" height="61.4" rx="12.6" stroke-width="1.8"/>
<circle cx="343.7" cy="1078.1" r="15.7" stroke-width="1.8"/>
<line x1="167.9" y1="1078.1" x2="522.0" y2="1078.1" stroke-width="1.8" stroke-dasharray="36 5 8 5"/>
<line x1="524.6" y1="1078.1" x2="572.4" y2="1078.1" stroke-width="1.8"/>
<line x1="343.7" y1="1046.7" x2="343.7" y2="1215.3" stroke-width="1.8" stroke-dasharray="30 5 8 5"/>
<rect x="312.4" y="1168.8" width="62.4" height="25.0" rx="12.5" stroke-width="1.8"/>
<line x1="288.1" y1="1180.8" x2="312.4" y2="1180.8" stroke-width="1.8"/>
<line x1="318.0" y1="1180.8" x2="370.0" y2="1180.8" stroke-width="1.8" stroke-dasharray="14 4"/>
<line x1="374.8" y1="1180.8" x2="400.0" y2="1180.8" stroke-width="1.8"/>
<line x1="404.0" y1="1180.8" x2="572.4" y2="1180.8" stroke-width="1.8"/>
<line x1="565.9" y1="1078.1" x2="565.9" y2="1180.8" stroke-width="1.8"/>
<polygon class="f" points="565.9,1078.1 569.3,1096.6 562.5,1096.6"/>
<polygon class="f" points="565.9,1180.8 562.5,1162.3 569.3,1162.3"/>
<text class="t" x="561.1" y="1147.3" font-size="31.0" textLength="35.2" lengthAdjust="spacingAndGlyphs" transform="rotate(-90 561.1 1147.3)">5.0</text>
<path d="M194.0,1173.5 L262.5,1173.5 L332.5,1091.2" stroke-width="1.8"/>
<line x1="355.2" y1="1065.0" x2="381.4" y2="1035.5" stroke-width="1.8"/>
<line x1="332.5" y1="1091.2" x2="355.2" y2="1065.0" stroke-width="1.8"/>
<polygon class="f" points="332.5,1091.2 323.1,1107.5 317.9,1103.1"/>
<polygon class="f" points="355.2,1065.0 364.9,1048.9 370.0,1053.4"/>
<text class="t" x="194.0" y="1167.7" font-size="31.0" textLength="64.0" lengthAdjust="spacingAndGlyphs">ø1.50</text>
<path d="M621.8,1031.1 L497.1,1031.1 L467.1,1065.0" stroke-width="1.8"/>
<polygon class="f" points="467.1,1065.0 476.8,1048.9 481.9,1053.4"/>
<text class="t" x="497.1" y="1025.8" font-size="31.0" textLength="120.2" lengthAdjust="spacingAndGlyphs">3-1.2*3.0</text>
<text class="t" x="152.2" y="1264.9" font-size="29.4" textLength="534.4" lengthAdjust="spacingAndGlyphs">Recommend PCB Layout Thickness:1.6mm</text>
<text class="t" x="152.2" y="1299.4" font-size="29.4" textLength="453.4" lengthAdjust="spacingAndGlyphs" xml:space="preserve">PCB Top View Tolerance: ±0.05mm</text>
</g>
<g id="notes">
<text class="n" x="1507.5" y="912.0" font-size="25.6" textLength="298.7" lengthAdjust="spacingAndGlyphs">1.ELECTRIC CHARACTERISTICS:</text>
<text class="n" x="1515.4" y="939.5" font-size="25.6" textLength="387.0" lengthAdjust="spacingAndGlyphs">1-1.CONTACT CURRENT RATING: 5.0A.</text>
<text class="n" x="1515.4" y="962.7" font-size="25.6" textLength="429.5" lengthAdjust="spacingAndGlyphs">1-2.CONTACT VOLTAGE RATING: 500V DC.</text>
<text class="n" x="1515.4" y="986.7" font-size="25.6" textLength="404.9" lengthAdjust="spacingAndGlyphs">1-3.CONTACT RESISTANCE: 10mΩ MAX.;</text>
<text class="n" x="1515.4" y="1011.7" font-size="25.6" textLength="520.1" lengthAdjust="spacingAndGlyphs">1-4.DIELECTRIC WITHSTANDING VOLTAGE: 750V AC;</text>
<text class="n" x="1515.4" y="1041.4" font-size="25.6" textLength="554.1" lengthAdjust="spacingAndGlyphs">1-5.INSULATION RESISTANCE: 100MΩ MIN.AT DC 500V.</text>
<text class="n" x="1504.1" y="1064.6" font-size="25.6" textLength="334.1" lengthAdjust="spacingAndGlyphs">2.MECHANICAL CHARACTERISTICS:</text>
<text class="n" x="1515.4" y="1090.9" font-size="25.6" textLength="293.0" lengthAdjust="spacingAndGlyphs">2-1.DURABILITY:500 CYCLES.</text>
<text class="n" x="1515.4" y="1115.8" font-size="25.6" textLength="411.1" lengthAdjust="spacingAndGlyphs">2-2.INSERTION AND EXTRACTION FORCE:</text>
<text class="n" x="1515.4" y="1140.5" font-size="25.6" textLength="560.6" lengthAdjust="spacingAndGlyphs">2-2.1.SINGLE-NEEDLE INSERTION FORCE:≤11.76N MAX.</text>
<text class="n" x="1515.4" y="1166.0" font-size="25.6" textLength="552.9" lengthAdjust="spacingAndGlyphs">2-2.2.SINGLE-NEEDLE EXTRACTION FORCE:≥0.3N Min.</text>
<text class="n" x="1507.5" y="1195.7" font-size="25.6" textLength="344.8" lengthAdjust="spacingAndGlyphs">3.ENVIRENMENT CHARACTERISTICS:</text>
<text class="n" x="1515.4" y="1227.7" font-size="25.6" textLength="457.8" lengthAdjust="spacingAndGlyphs">3-1.OPERATING TEMPERATURE:-25℃~+85℃.</text>
<text class="n" x="1515.4" y="1256.6" font-size="25.6" textLength="267.0" lengthAdjust="spacingAndGlyphs">3-2.HUMIDTY:45~85% RH.</text>
</g>
<g id="bom">
<line x1="61.6" y1="1350.3" x2="1272.2" y2="1350.3" stroke-width="2.8"/>
<line x1="61.6" y1="1392.1" x2="1272.2" y2="1392.1" stroke-width="2.8"/>
<line x1="61.6" y1="1434.4" x2="1272.2" y2="1434.4" stroke-width="2.8"/>
<line x1="61.6" y1="1476.6" x2="1272.2" y2="1476.6" stroke-width="2.8"/>
<line x1="61.6" y1="1518.5" x2="1272.2" y2="1518.5" stroke-width="2.8"/>
<line x1="61.6" y1="1560.7" x2="1272.2" y2="1560.7" stroke-width="2.8"/>
<line x1="104.4" y1="1350.3" x2="104.4" y2="1603.0" stroke-width="2.8"/>
<line x1="360.6" y1="1350.3" x2="360.6" y2="1603.0" stroke-width="2.8"/>
<line x1="458.4" y1="1350.3" x2="458.4" y2="1603.0" stroke-width="2.8"/>
<line x1="507.1" y1="1350.3" x2="507.1" y2="1603.0" stroke-width="2.8"/>
<line x1="885.5" y1="1350.3" x2="885.5" y2="1603.0" stroke-width="2.8"/>
<circle cx="83.4" cy="1372.5" r="13.2" stroke-width="2.8"/>
<text class="m" x="83.4" y="1381.9" font-size="27.4" textLength="12.5" lengthAdjust="spacingAndGlyphs" text-anchor="middle">5</text>
<text class="m" x="110.8" y="1380.7" font-size="26.9" textLength="66.0" lengthAdjust="spacingAndGlyphs">SHELL</text>
<text class="m" x="481.5" y="1380.7" font-size="26.9" text-anchor="middle">1</text>
<text class="m" x="515.6" y="1380.7" font-size="26.9" textLength="196.4" lengthAdjust="spacingAndGlyphs">STEEL t=0.40mm</text>
<text class="m" x="894.4" y="1380.7" font-size="26.9" textLength="129.8" lengthAdjust="spacingAndGlyphs">Ni-PLATING</text>
<circle cx="83.4" cy="1414.5" r="13.2" stroke-width="2.8"/>
<text class="m" x="83.4" y="1423.9" font-size="27.4" textLength="12.5" lengthAdjust="spacingAndGlyphs" text-anchor="middle">4</text>
<text class="m" x="110.8" y="1422.7" font-size="26.9" textLength="101.6" lengthAdjust="spacingAndGlyphs">CONTACT</text>
<text class="m" x="481.5" y="1422.7" font-size="26.9" text-anchor="middle">1</text>
<text class="m" x="515.6" y="1422.7" font-size="26.9" textLength="204.3" lengthAdjust="spacingAndGlyphs">BRASS t=0.30mm</text>
<text class="m" x="894.4" y="1422.7" font-size="26.9" textLength="136.5" lengthAdjust="spacingAndGlyphs">Sn-PLATING</text>
<circle cx="83.4" cy="1456.3" r="13.2" stroke-width="2.8"/>
<text class="m" x="83.4" y="1465.7" font-size="27.4" textLength="12.5" lengthAdjust="spacingAndGlyphs" text-anchor="middle">3</text>
<text class="m" x="110.8" y="1464.5" font-size="26.9" textLength="152.6" lengthAdjust="spacingAndGlyphs">INSULATOR-B</text>
<text class="m" x="481.5" y="1464.5" font-size="26.9" text-anchor="middle">1</text>
<text class="m" x="515.6" y="1464.5" font-size="26.9" textLength="43.2" lengthAdjust="spacingAndGlyphs">PPA</text>
<text class="m" x="894.4" y="1464.5" font-size="26.9" textLength="126.9" lengthAdjust="spacingAndGlyphs">Brown(406)</text>
<circle cx="83.4" cy="1498.1" r="13.2" stroke-width="2.8"/>
<text class="m" x="83.4" y="1507.5" font-size="27.4" textLength="12.5" lengthAdjust="spacingAndGlyphs" text-anchor="middle">2</text>
<text class="m" x="110.8" y="1506.3" font-size="26.9" textLength="152.6" lengthAdjust="spacingAndGlyphs">INSULATOR-A</text>
<text class="m" x="481.5" y="1506.3" font-size="26.9" text-anchor="middle">1</text>
<text class="m" x="515.6" y="1506.3" font-size="26.9" textLength="43.2" lengthAdjust="spacingAndGlyphs">PPA</text>
<text class="m" x="894.4" y="1506.3" font-size="26.9" textLength="126.9" lengthAdjust="spacingAndGlyphs">Brown(406)</text>
<circle cx="83.4" cy="1540.0" r="13.2" stroke-width="2.8"/>
<text class="m" x="83.4" y="1549.4" font-size="27.4" textLength="12.5" lengthAdjust="spacingAndGlyphs" text-anchor="middle">1</text>
<text class="m" x="110.8" y="1548.2" font-size="26.9" textLength="58.7" lengthAdjust="spacingAndGlyphs">BODY</text>
<text class="m" x="481.5" y="1548.2" font-size="26.9" text-anchor="middle">1</text>
<text class="m" x="515.6" y="1548.2" font-size="26.9" textLength="132.2" lengthAdjust="spacingAndGlyphs">ZINC ALLOY</text>
<text class="m" x="894.4" y="1548.2" font-size="26.9" textLength="107.3" lengthAdjust="spacingAndGlyphs">Ni-Plated</text>
<text class="m" x="66.5" y="1591.4" font-size="26.9" textLength="34.1" lengthAdjust="spacingAndGlyphs">No.</text>
<text class="m" x="126.3" y="1590.2" font-size="26.9" textLength="132.8" lengthAdjust="spacingAndGlyphs">PART NAME</text>
<text class="m" x="367.0" y="1590.2" font-size="26.9" textLength="80.3" lengthAdjust="spacingAndGlyphs">TER'No.</text>
<text class="m" x="459.5" y="1587.0" font-size="26.9" textLength="43.8" lengthAdjust="spacingAndGlyphs">Q'ty</text>
<text class="m" x="622.4" y="1590.2" font-size="26.9" textLength="106.2" lengthAdjust="spacingAndGlyphs">MATERIAL</text>
<text class="m" x="904.6" y="1590.2" font-size="26.9" textLength="207.2" lengthAdjust="spacingAndGlyphs">PLATING &amp; COLOR</text>
</g>
<g id="title">
<line x1="1272.2" y1="1313.4" x2="1272.2" y2="1603.0" stroke-width="3"/>
<line x1="1270.7" y1="1314.8" x2="2277.5" y2="1314.8" stroke-width="3"/>
<line x1="1272.2" y1="1398.4" x2="2277.5" y2="1398.4" stroke-width="2.8"/>
<line x1="1272.2" y1="1524.4" x2="2277.5" y2="1524.4" stroke-width="2.8"/>
<line x1="1497.1" y1="1356.4" x2="1954.1" y2="1356.4" stroke-width="2.8"/>
<line x1="1497.1" y1="1440.4" x2="1954.1" y2="1440.4" stroke-width="2.8"/>
<line x1="1497.1" y1="1482.5" x2="2277.5" y2="1482.5" stroke-width="2.8"/>
<line x1="1497.1" y1="1314.8" x2="1497.1" y2="1524.4" stroke-width="2.8"/>
<line x1="1644.5" y1="1314.8" x2="1644.5" y2="1398.4" stroke-width="2.8"/>
<line x1="1783.4" y1="1314.8" x2="1783.4" y2="1398.4" stroke-width="2.8"/>
<line x1="1954.1" y1="1314.8" x2="1954.1" y2="1524.4" stroke-width="2.8"/>
<line x1="1570.4" y1="1398.4" x2="1570.4" y2="1524.4" stroke-width="2.8"/>
<line x1="1726.4" y1="1398.4" x2="1726.4" y2="1524.4" stroke-width="2.8"/>
<line x1="1798.4" y1="1398.4" x2="1798.4" y2="1524.4" stroke-width="2.8"/>
<line x1="1446.5" y1="1524.4" x2="1446.5" y2="1603.0" stroke-width="2.8"/>
<text class="b" x="1278.3" y="1344.2" font-size="21.8" textLength="175.7" lengthAdjust="spacingAndGlyphs">UNLESS OTHERWISE</text>
<text class="b" x="1277.6" y="1375.3" font-size="21.8" textLength="210.5" lengthAdjust="spacingAndGlyphs">SPECIFIED TOLERANCES</text>
<text class="b" x="1276.9" y="1421.8" font-size="22.4" textLength="101.2" lengthAdjust="spacingAndGlyphs">TOL TABLE:</text>
<text class="b" y="1447.7" font-size="22.5" xml:space="preserve"><tspan x="1277.8" textLength="13.5" lengthAdjust="spacingAndGlyphs">X.</tspan><tspan x="1311.8" textLength="6.0" lengthAdjust="spacingAndGlyphs"> :</tspan><tspan x="1323.0" textLength="53.5" lengthAdjust="spacingAndGlyphs"> ±0.38</tspan></text>
<text class="b" y="1447.7" font-size="22.5" xml:space="preserve"><tspan x="1404.8" textLength="19.2" lengthAdjust="spacingAndGlyphs">X.°</tspan><tspan x="1437.0" textLength="41.4" lengthAdjust="spacingAndGlyphs"> :±3°</tspan></text>
<text class="b" y="1481.1" font-size="22.5" xml:space="preserve"><tspan x="1277.8" textLength="24.0" lengthAdjust="spacingAndGlyphs">X.X</tspan><tspan x="1311.8" textLength="6.0" lengthAdjust="spacingAndGlyphs"> :</tspan><tspan x="1324.0" textLength="52.5" lengthAdjust="spacingAndGlyphs"> ±0.30</tspan></text>
<text class="b" y="1481.1" font-size="22.5" xml:space="preserve"><tspan x="1404.8" textLength="29.4" lengthAdjust="spacingAndGlyphs">X.X°</tspan><tspan x="1437.0" textLength="42.0" lengthAdjust="spacingAndGlyphs"> :±2°</tspan></text>
<text class="b" y="1511.7" font-size="22.5" xml:space="preserve"><tspan x="1277.8" textLength="38.4" lengthAdjust="spacingAndGlyphs">X.XX:</tspan><tspan x="1324.0" textLength="53.6" lengthAdjust="spacingAndGlyphs"> ±0.20</tspan></text>
<text class="b" y="1511.7" font-size="22.5" xml:space="preserve"><tspan x="1404.8" textLength="72.0" lengthAdjust="spacingAndGlyphs">X.XX°:±1°</tspan></text>
<text class="m" x="1502.9" y="1344.7" font-size="29.5" textLength="140.0" lengthAdjust="spacingAndGlyphs">SCALE:2.5:1</text>
<text class="m" x="1653.2" y="1344.7" font-size="29.5" textLength="104.9" lengthAdjust="spacingAndGlyphs" xml:space="preserve">SIZE:  A4</text>
<text class="m" x="1503.4" y="1386.5" font-size="29.5" textLength="120.0" lengthAdjust="spacingAndGlyphs" xml:space="preserve">UNIT:  mm</text>
<text class="m" x="1653.2" y="1386.5" font-size="29.5" textLength="103.0" lengthAdjust="spacingAndGlyphs" xml:space="preserve">REV.:  A1</text>
<text class="m" x="1791.7" y="1345.0" font-size="28.5" textLength="56.5" lengthAdjust="spacingAndGlyphs">VIEW:</text>
<text class="m" x="1787.8" y="1386.0" font-size="28.5" textLength="119.3" lengthAdjust="spacingAndGlyphs">SHEET:1/1</text>
<circle cx="1880.6" cy="1335.3" r="10.6" stroke-width="2.6"/>
<circle cx="1880.6" cy="1335.3" r="5.6" stroke-width="2.4"/>
<line x1="1865.4" y1="1335.3" x2="1895.8" y2="1335.3" stroke-width="2"/>
<line x1="1880.6" y1="1321.5" x2="1880.6" y2="1349.0" stroke-width="2"/>
<path d="M1909.0,1330.4 L1938.3,1324.3 L1938.3,1346.3 L1909.0,1340.2 Z" stroke-width="2.6"/>
<line x1="1905.4" y1="1335.3" x2="1942.6" y2="1335.3" stroke-width="2" stroke-dasharray="7 2.5"/>
<text class="m" x="1499.9" y="1428.2" font-size="28.0" textLength="60.0" lengthAdjust="spacingAndGlyphs">DSND</text>
<text class="m" x="1577.0" y="1428.2" font-size="28.0" textLength="86.3" lengthAdjust="spacingAndGlyphs">L.Q.Guo</text>
<text class="m" x="1499.9" y="1471.2" font-size="28.0" textLength="61.0" lengthAdjust="spacingAndGlyphs">CHKD</text>
<text class="m" x="1574.0" y="1469.3" font-size="28.0" textLength="102.3" lengthAdjust="spacingAndGlyphs">Y.X.Wang</text>
<text class="m" x="1503.4" y="1511.7" font-size="28.0" textLength="58.8" lengthAdjust="spacingAndGlyphs">APVD</text>
<text class="m" x="1572.8" y="1511.7" font-size="28.0" textLength="68.2" lengthAdjust="spacingAndGlyphs">E.L.Gu</text>
<text class="m" x="1730.4" y="1428.2" font-size="28.0" textLength="58.8" lengthAdjust="spacingAndGlyphs">DATE</text>
<text class="m" x="1730.4" y="1470.2" font-size="28.0" textLength="58.8" lengthAdjust="spacingAndGlyphs">DATE</text>
<text class="m" x="1730.4" y="1511.7" font-size="28.0" textLength="58.8" lengthAdjust="spacingAndGlyphs">DATE</text>
<text class="m" x="1809.7" y="1427.8" font-size="28.0" textLength="128.1" lengthAdjust="spacingAndGlyphs">2018.09.26</text>
<text class="m" x="1809.7" y="1469.2" font-size="28.0" textLength="128.1" lengthAdjust="spacingAndGlyphs">2018.09.26</text>
<text class="m" x="1809.7" y="1511.3" font-size="28.0" textLength="128.1" lengthAdjust="spacingAndGlyphs">2018.09.26</text>
<text class="m" x="1959.0" y="1343.3" font-size="28.0" textLength="152.1" lengthAdjust="spacingAndGlyphs">MODEL TYPE:</text>
<text class="m" x="2008.4" y="1383.3" font-size="28.0" textLength="100.8" lengthAdjust="spacingAndGlyphs">RF JACK</text>
<text class="m" x="1959.0" y="1427.1" font-size="28.0" textLength="109.5" lengthAdjust="spacingAndGlyphs">PART No:</text>
<text class="m" x="2025.4" y="1470.4" font-size="28.0" textLength="116.9" lengthAdjust="spacingAndGlyphs">FC57A-01</text>
<text class="m" x="1960.2" y="1513.1" font-size="28.0" textLength="240.5" lengthAdjust="spacingAndGlyphs">DWN. No.:RD01-528</text>
<text class="m" x="1277.6" y="1552.1" font-size="26.9" textLength="108.2" lengthAdjust="spacingAndGlyphs">DRAWING:</text>
<text class="m" x="1278.3" y="1588.8" font-size="26.9" textLength="121.2" lengthAdjust="spacingAndGlyphs">CUSTOMER</text>
<text class="t" x="1581.0" y="1571.3" font-size="34.2" textLength="692.0" lengthAdjust="spacingAndGlyphs" style="word-spacing:.38em">YONG CHENGGONG ELECTRONICS CO.,LTD.</text>
</g>
</svg>
</body></html>
